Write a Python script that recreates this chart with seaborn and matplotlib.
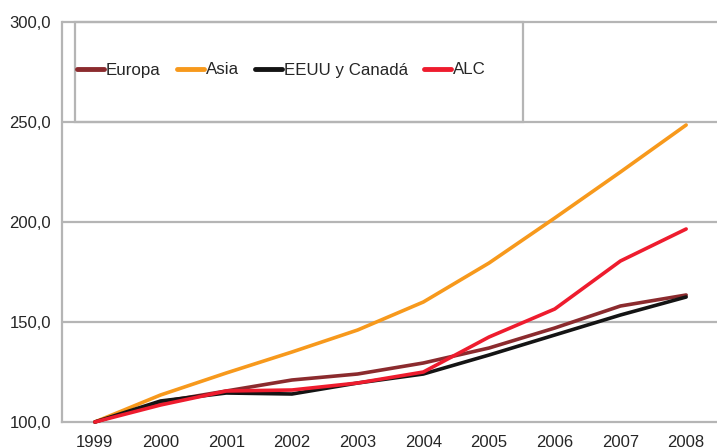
import pandas as pd
import numpy as np
from matplotlib import pyplot as plt
from matplotlib.patches import Rectangle
import seaborn as sns

# data (index, 1999 = 100)
years = ["1999", "2000", "2001", "2002", "2003", "2004", "2005", "2006", "2007", "2008"]
europa = [100, 110, 115.5, 121, 124, 129.5, 137, 147, 158, 163.5]
asia = [100, 113.5, 124.5, 135, 146, 160, 179.5, 202, 225, 248.5]
eeuu = [100, 110.5, 114.5, 114, 119.5, 124, 133.5, 143.5, 153.5, 162.5]
alc = [100, 108.5, 115.5, 116, 119.5, 125, 142.5, 156.5, 180.5, 196.5]
series_names = ["Europa", "Asia", "EEUU y Canadá", "ALC"]
colors = ["#8B2B2E", "#F7991C", "#141414", "#EE1C2E"]

df = pd.DataFrame({"year": years, "Europa": europa, "Asia": asia,
                   "EEUU y Canadá": eeuu, "ALC": alc})
df["pos"] = np.arange(len(years))
long_df = df.melt(id_vars=["year", "pos"], var_name="region", value_name="index")

sns.set_style("white")
plt.rcParams["font.family"] = ["Liberation Sans", "DejaVu Sans"]

fig = plt.figure(figsize=(7.17, 4.48), dpi=100)
ax = fig.add_axes([62 / 717, 26 / 448, 657 / 717, 400 / 448])

grid_c = "#b5b5b5"
for v in [150, 200, 250, 300]:
    ax.axhline(v, color=grid_c, lw=1.6, zorder=0)

sns.lineplot(data=long_df, x="pos", y="index", hue="region", hue_order=series_names,
             palette=colors, linewidth=2.6, ax=ax, legend=False, zorder=3)
for line in ax.get_lines():
    line.set_clip_on(False)
    line.set_solid_capstyle("round")

ax.set_xlim(-0.5, 9.5)
ax.set_ylim(100, 300)
ax.set_xlabel("")
ax.set_ylabel("")

# axis ticks and labels
ax.set_xticks(range(len(years)))
ax.set_xticklabels(years, fontsize=12)
ax.set_xticks(np.arange(-0.5, 10, 1), minor=True)
ax.tick_params(axis="x", which="major", length=0, pad=9)
ax.tick_params(axis="x", which="minor", length=5, width=1.6, color=grid_c, direction="out")
ax.set_yticks([100, 150, 200, 250, 300])
ax.set_yticklabels(["100,0", "150,0", "200,0", "250,0", "300,0"], fontsize=12)
ax.tick_params(axis="y", length=5, width=1.6, color=grid_c, direction="out", pad=3)

for side in ["top", "right"]:
    ax.spines[side].set_visible(False)
for side in ["left", "bottom"]:
    ax.spines[side].set_color(grid_c)
    ax.spines[side].set_linewidth(1.6)

# legend box
ax.add_patch(Rectangle((0.02, 0.75), 0.682, 0.25, transform=ax.transAxes,
                       fill=False, edgecolor=grid_c, lw=1.6, zorder=1, clip_on=False))
handles = [plt.Line2D([0], [0], color=c, lw=3.5, solid_capstyle="round") for c in colors]
ax.legend(handles, series_names, loc="center left", bbox_to_anchor=(0.0, 0.88),
          ncol=4, frameon=False, fontsize=12.2, handlelength=1.6,
          handletextpad=0.1, columnspacing=0.95)

plt.savefig("out.png", dpi=100)
